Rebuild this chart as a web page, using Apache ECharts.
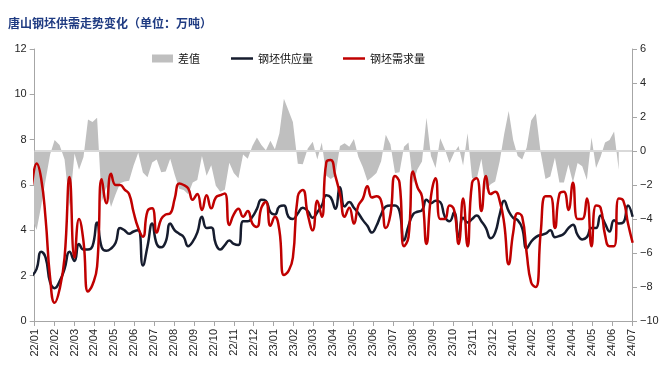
<!DOCTYPE html>
<html>
<head>
<meta charset="utf-8">
<script src="https://cdn.jsdelivr.net/npm/echarts@6/dist/echarts.min.js"></script>
<style>
html,body{margin:0;padding:0;background:#fff;}
#chart{width:664px;height:390px;}
</style>
</head>
<body>
<div id="chart"></div>
<script>
// Weekly observations (first week starting 2021-12-28)
const firstWeek = '2021-12-28';
const supply = [
  2.0, 2.3, 3.05, 2.8, 1.7, 1.45, 1.75, 2.3, 3.05, 2.65,
  3.4, 3.15, 3.15, 3.3, 4.35, 3.25, 3.1, 3.2, 3.45, 4.1,
  4.0, 3.85, 3.95, 4.0, 2.45, 3.3, 4.3, 3.4, 3.25, 3.5,
  4.3, 4.0, 3.85, 3.7, 3.3, 3.5, 3.9, 4.6, 4.1, 4.13,
  3.4, 3.15, 3.35, 3.55, 3.4, 3.35, 4.4, 4.4, 4.6, 4.95,
  5.35, 5.3, 4.8, 4.7, 5.05, 5.1, 4.6, 4.5, 4.75, 5.0,
  4.85, 4.55, 4.8, 5.1, 5.55, 5.45, 4.95, 5.9, 5.05, 5.25,
  5.0, 4.75, 4.45, 4.2, 3.9, 4.2, 4.7, 5.05, 5.1, 5.1,
  4.85, 3.55, 4.2, 4.7, 4.82, 4.88, 5.35, 5.2, 5.3, 5.25,
  4.6, 4.4, 4.8, 3.7, 4.55, 4.35, 4.5, 4.65, 4.4, 4.1,
  3.65, 3.9, 4.7, 5.3, 4.85, 4.55, 4.45, 4.1, 3.2, 3.5,
  3.7, 3.8, 3.85, 4.0, 3.7, 3.75, 3.85, 4.1, 4.25, 3.8,
  3.6, 3.7, 4.1, 4.1, 4.65, 4.3, 3.95, 4.45, 4.3, 4.35,
  5.1, 4.6
];
const demand = [
  6.0, 6.95, 6.3, 4.5, 1.9, 0.8, 1.4, 2.8, 6.35, 2.8,
  4.5, 3.5, 1.3, 1.6, 2.4, 6.25, 5.2, 6.5, 6.0, 6.0,
  5.8, 5.6, 4.8, 4.1, 3.72, 4.85, 4.97, 3.9, 4.5, 4.7,
  4.75, 5.4, 6.07, 6.0, 5.85, 5.35, 5.6, 4.9, 5.55, 4.97,
  5.45, 5.55, 5.63, 4.24, 4.7, 4.95, 4.6, 4.85, 4.3, 4.15,
  5.0, 5.25, 4.2, 4.6, 4.0, 2.03, 2.2, 2.8, 5.5, 5.78,
  4.7, 4.0, 5.3, 4.6, 7.0, 7.1, 6.4, 5.6, 4.6, 5.0,
  4.3, 5.1, 5.4, 5.95, 5.45, 5.5, 5.3, 4.1, 4.7, 6.4,
  6.1, 3.3, 3.7, 6.6, 5.9, 5.5, 3.4, 5.5, 6.3, 4.5,
  4.5, 5.1, 4.9, 3.4, 5.4, 3.3, 6.1, 6.3, 4.85, 6.4,
  5.6, 5.7, 5.3, 4.3, 2.5, 3.9, 4.75, 4.6, 3.0, 1.7,
  1.5, 3.9, 5.5, 5.5, 4.1, 5.6, 5.7, 4.9, 6.1, 4.5,
  4.5, 5.4, 3.3, 5.1, 5.0, 3.8, 3.3, 3.3, 5.4, 5.3,
  4.3, 3.45
];
// the 差值 series in the source stops three weeks before the two lines
const diffWeeks = 129;
const leftTicks = {min: 0, max: 12, step: 2};
const rightTicks = {min: -10, max: 6, step: 2};
const monthStart = {year: 2022, month: 1};
const monthCount = 30;
const seriesNames = ['差值', '钢坯供应量', '钢坯需求量'];
const titleText = '唐山钢坯供需走势变化（单位：万吨）';

// dates -> fractional month index (0 = 22/01)
const dates = [];
(function () {
  const p = firstWeek.split('-').map(Number);
  const t0 = Date.UTC(p[0], p[1] - 1, p[2]);
  for (let i = 0; i < supply.length; i++) dates.push(new Date(t0 + i * 7 * 86400000));
})();
function monthIndex(d) {
  const y = d.getUTCFullYear(), m = d.getUTCMonth(), day = d.getUTCDate();
  const dim = new Date(Date.UTC(y, m + 1, 0)).getUTCDate();
  return (y - monthStart.year) * 12 + (m - (monthStart.month - 1)) + (day - 1) / dim;
}
const xs = dates.map(monthIndex);
const diff = supply.slice(0, diffWeeks).map((s, i) => +(s - demand[i]).toFixed(2));
const pts = arr => arr.map((v, i) => [xs[i], v]);

function monthLabel(v) {
  const m = Math.round(v);
  const yy = (monthStart.year % 100) + Math.floor(m / 12);
  const mm = (m % 12) + 1;
  return yy + '/' + String(mm).padStart(2, '0');
}
const minus = v => (v < 0 ? '\u2212' + Math.abs(v) : String(v));

const axisColor = '#a6a6a6';
const labelFont = {fontFamily: 'Liberation Sans, Arial, sans-serif', fontSize: 11, color: '#262626'};
const legendText = {fontFamily: 'Noto Sans CJK SC', fontSize: 11, color: '#111'};

const chart = echarts.init(document.getElementById('chart'), null, {renderer: 'canvas'});
chart.setOption({
  animation: false,
  backgroundColor: '#fff',
  title: {
    text: titleText,
    left: 8, top: 17, padding: 0,
    textStyle: {fontFamily: 'Noto Sans CJK SC', fontWeight: 'bold', fontSize: 12, color: '#1f3b82'}
  },
  legend: [
    {
      left: 152, top: 53, padding: 0,
      itemWidth: 21, itemHeight: 8, icon: 'rect',
      textStyle: legendText,
      data: [seriesNames[0]]
    },
    {
      left: 231, top: 53, padding: 0,
      itemGap: 30, itemWidth: 22, itemHeight: 2.5, icon: 'rect',
      textStyle: legendText,
      data: [seriesNames[1], seriesNames[2]]
    }
  ],
  grid: {left: 34.7, right: 32, top: 49, bottom: 69, containLabel: false},
  xAxis: {
    type: 'value', min: 0, max: monthCount, interval: 1,
    axisLine: {lineStyle: {color: axisColor, width: 1}},
    axisTick: {show: true, length: 5, lineStyle: {color: axisColor}},
    axisLabel: Object.assign({rotate: 90, margin: 8, formatter: monthLabel, showMinLabel: true, showMaxLabel: true}, labelFont),
    splitLine: {show: false}
  },
  yAxis: [
    {
      type: 'value', min: leftTicks.min, max: leftTicks.max, interval: leftTicks.step,
      position: 'left',
      axisLine: {show: true, lineStyle: {color: axisColor}},
      axisTick: {show: true, length: 5, lineStyle: {color: axisColor}},
      axisLabel: Object.assign({margin: 8}, labelFont),
      splitLine: {show: false}
    },
    {
      type: 'value', min: rightTicks.min, max: rightTicks.max, interval: rightTicks.step,
      position: 'right',
      axisLine: {show: true, lineStyle: {color: axisColor}},
      axisTick: {show: true, length: 5, lineStyle: {color: axisColor}},
      axisLabel: Object.assign({margin: 8, formatter: minus}, labelFont),
      splitLine: {show: false}
    }
  ],
  series: [
    {
      name: seriesNames[0], type: 'line', yAxisIndex: 1,
      data: pts(diff), symbol: 'none', smooth: false, z: 1,
      lineStyle: {width: 0, color: '#bfbfbf'},
      itemStyle: {color: '#bfbfbf'},
      areaStyle: {color: '#bfbfbf', opacity: 1},
      markLine: {
        silent: true, symbol: 'none', label: {show: false},
        lineStyle: {color: '#d9d9d9', width: 2, type: 'solid'},
        data: [{yAxis: 0}]
      }
    },
    {
      name: seriesNames[1], type: 'line', yAxisIndex: 0,
      data: pts(supply), symbol: 'none', smooth: 0.5, z: 3,
      lineStyle: {width: 2.5, color: '#161c2e'},
      itemStyle: {color: '#161c2e'}
    },
    {
      name: seriesNames[2], type: 'line', yAxisIndex: 0,
      data: pts(demand), symbol: 'none', smooth: 0.5, z: 4,
      lineStyle: {width: 2.5, color: '#c00000'},
      itemStyle: {color: '#c00000'}
    }
  ]
});
</script>
</body>
</html>
